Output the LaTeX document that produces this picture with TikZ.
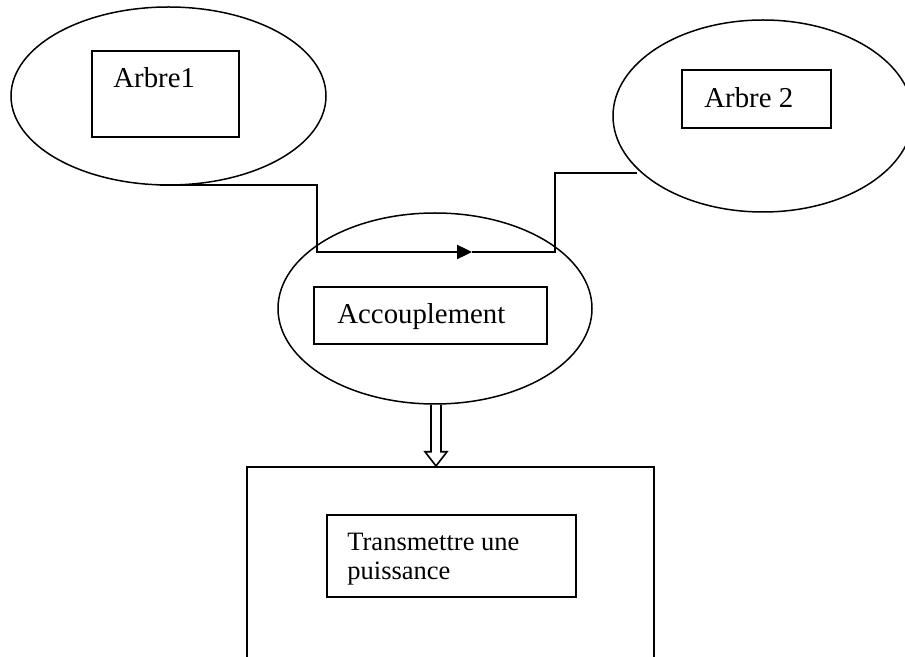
\documentclass[tikz,border=0pt]{standalone}
\usepackage{fontspec}
\setmainfont{Liberation Serif}
\usetikzlibrary{shapes.geometric,arrows.meta,calc}
\begin{document}
\begin{tikzpicture}[x=0.5pt,y=-0.5pt,
  bubble/.style={draw,ellipse,inner sep=0pt,line width=0.75pt},
  frame/.style={draw,rectangle,inner sep=0pt,line width=0.8pt},
  label/.style={anchor=base west,inner sep=0pt,font=\fontsize{14.4pt}{17pt}\selectfont},
  shaft/.style={line width=1.2pt},
]
\useasboundingbox (0,0) rectangle (905,657);

% the three functional ellipses
\node[bubble,minimum width=157.5pt,minimum height=89pt] (e1) at (168.5,96) {};
\node[bubble,minimum width=150pt,minimum height=96pt] (e2) at (763,116) {};
\node[bubble,minimum width=157pt,minimum height=95.5pt] (e3) at (435,308.5) {};

% boxes inside the ellipses
\node[frame,minimum width=73.5pt,minimum height=43pt] (b1) at (165.5,94) {};
\node[label] (t1) at (113,88) {Arbre1};
\node[frame,minimum width=74.5pt,minimum height=29pt] (b2) at (756.5,99) {};
\node[label] (t2) at (704,108) {Arbre 2};
\node[frame,minimum width=116.5pt,minimum height=28.5pt] (b3) at (430.5,315.5) {};
\node[label] (t3) at (337,324) {Accouplement};

% function block (open at the bottom)
\node[draw,rectangle,line width=1pt,minimum width=203.5pt,minimum height=120pt,anchor=north] (fb) at (450.5,466) {};
\node[frame,minimum width=124.5pt,minimum height=41pt] (b4) at (451.5,556) {};
\node[anchor=base west,inner sep=0pt,align=left,font=\fontsize{13.25pt}{14.5pt}\selectfont] (t4) at (347,579) {Transmettre une\\puissance};

% link from shaft 1 through the coupling to shaft 2
\coordinate (s1) at (160,185);
\coordinate (k1) at (317,185);
\coordinate (k2) at (317,252);
\coordinate (mid) at (472,252);
\coordinate (k3) at (555,252);
\coordinate (k4) at (555,173);
\coordinate (s2) at (637,173);
\draw[shaft,-{Triangle[length=7.5pt,width=7pt]}] (s1) -- (k1) -- (k2) -- (mid);
\draw[line width=1pt] (mid) -- (k3) -- (k4) -- (s2);

% hollow output arrow from the coupling down to the function block
\coordinate (o) at (e3.south);
\coordinate (o1) at ($(o)+(1,0)$);
\coordinate (tip) at (o1 |- fb.north);
\draw[line width=0.8pt,line join=miter]
  ($(o)+(-4,0)$) -- ($(o)+(-4,47)$) -- ($(o)+(-10,47)$) -- (tip)
  -- ($(o)+(12,47)$) -- ($(o)+(6,47)$) -- ($(o)+(6,0)$);
\end{tikzpicture}
\end{document}
